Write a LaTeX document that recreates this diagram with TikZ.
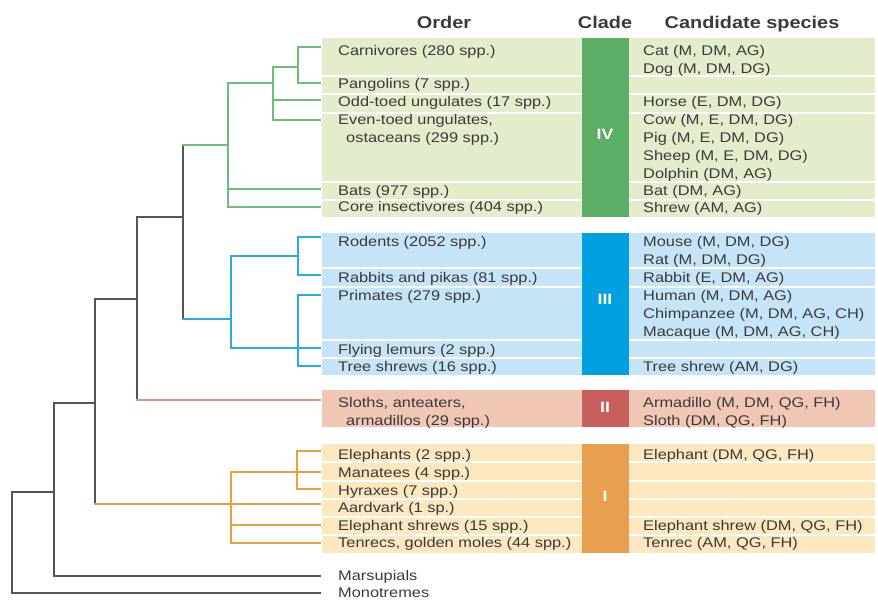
\documentclass[tikz,border=0pt]{standalone}
\usepackage{fontspec}
\setmainfont{Liberation Sans}[FakeStretch=1.17]
\usetikzlibrary{positioning, calc}
\usepackage{xcolor}
\definecolor{mamtext}{HTML}{3A3A3A}
\definecolor{mamgray}{HTML}{555555}
\definecolor{mamgreenband}{HTML}{E3EDCB}
\definecolor{mamgreenbar}{HTML}{5CAE64}
\definecolor{mamgreenline}{HTML}{6EBE78}
\definecolor{mamblueband}{HTML}{C6E4F7}
\definecolor{mambluebar}{HTML}{00A0E1}
\definecolor{mamblueline}{HTML}{29AAE2}
\definecolor{mamredband}{HTML}{F0C6B4}
\definecolor{mamredbar}{HTML}{C85F5F}
\definecolor{mamredline}{HTML}{DC9682}
\definecolor{mamorangeband}{HTML}{FCE8BE}
\definecolor{mamorangebar}{HTML}{E6A050}
\definecolor{mamorangeline}{HTML}{EBA03C}

\tikzset{
  ordtext/.style={anchor=base west, inner sep=0pt, text=mamtext,
    font=\fontsize{14}{17}\selectfont},
  headtext/.style={anchor=base, inner sep=0pt, text=mamtext,
    font=\bfseries\fontsize{17}{20}\selectfont},
  cladelabel/.style={anchor=base, inner sep=0pt, text=white,
    font=\bfseries\fontsize{15}{18}\selectfont},
  branch/.style={line width=1.6pt, line cap=rect},
  rowsep/.style={white, line width=1.2pt}
}

\begin{document}
\begin{tikzpicture}[x=1pt, y=-1pt]
  \useasboundingbox (0,0) rectangle (878,601);

  % Headers
  \node[headtext] (hOrder) at (444,29) {Order};
  \node[headtext] (hClade) at (605,29) {Clade};
  \node[headtext] (hCand) at (752,29) {Candidate species};

  % Clade IV band
  \fill[mamgreenband] (322,38) rectangle (875,217);
  \draw[rowsep] (322,76) -- (875,76) (322,94) -- (875,94) (322,113) -- (875,113)
                (322,182) -- (875,182) (322,200) -- (875,200);
  \fill[mamgreenbar] (582,38) rectangle (629,217);
  \node[cladelabel] (cIV) at (605,140) {IV};

  % Clade III band
  \fill[mamblueband] (322,233) rectangle (875,375);
  \draw[rowsep] (322,268) -- (875,268) (322,287) -- (875,287)
                (322,340) -- (875,340) (322,358) -- (875,358);
  \fill[mambluebar] (582,233) rectangle (629,375);
  \node[cladelabel] (cIII) at (605,305) {III};

  % Clade II band
  \fill[mamredband] (322,390) rectangle (875,427);
  \fill[mamredbar] (582,390) rectangle (629,427);
  \node[cladelabel] (cII) at (605,413) {II};

  % Clade I band
  \fill[mamorangeband] (322,444) rectangle (875,553);
  \draw[rowsep] (322,462) -- (875,462) (322,481) -- (875,481) (322,499) -- (875,499)
                (322,517) -- (875,517) (322,535) -- (875,535);
  \fill[mamorangebar] (582,444) rectangle (629,553);
  \node[cladelabel] (cI) at (605,501) {I};

  % Orders
  \node[ordtext] (carn) at (338,56) {Carnivores (280 spp.)};
  \node[ordtext] (pang) at (338,89) {Pangolins (7 spp.)};
  \node[ordtext] (odd) at (338,107) {Odd-toed ungulates (17 spp.)};
  \node[ordtext] (even) at (338,125) {Even-toed ungulates,};
  \node[ordtext] (evenb) at (346,143) {ostaceans (299 spp.)};
  \node[ordtext] (bats) at (338,196) {Bats (977 spp.)};
  \node[ordtext] (core) at (338,212) {Core insectivores (404 spp.)};
  \node[ordtext] (rod) at (338,247) {Rodents (2052 spp.)};
  \node[ordtext] (rab) at (338,283) {Rabbits and pikas (81 spp.)};
  \node[ordtext] (prim) at (338,301) {Primates (279 spp.)};
  \node[ordtext] (fly) at (338,355) {Flying lemurs (2 spp.)};
  \node[ordtext] (tsh) at (338,372) {Tree shrews (16 spp.)};
  \node[ordtext] (sloth) at (338,407) {Sloths, anteaters,};
  \node[ordtext] (slothb) at (346,425) {armadillos (29 spp.)};
  \node[ordtext] (eleph) at (338,459) {Elephants (2 spp.)};
  \node[ordtext] (man) at (338,477) {Manatees (4 spp.)};
  \node[ordtext] (hyr) at (338,495) {Hyraxes (7 spp.)};
  \node[ordtext] (aard) at (338,512) {Aardvark (1 sp.)};
  \node[ordtext] (elsh) at (338,530) {Elephant shrews (15 spp.)};
  \node[ordtext] (tenr) at (338,547) {Tenrecs, golden moles (44 spp.)};
  \node[ordtext] (mars) at (338,580) {Marsupials};
  \node[ordtext] (mono) at (338,597) {Monotremes};

  % Candidate species
  \node[ordtext] (sCat) at (643,56) {Cat (M, DM, AG)};
  \node[ordtext] (sDog) at (643,74) {Dog (M, DM, DG)};
  \node[ordtext] (sHorse) at (643,107) {Horse (E, DM, DG)};
  \node[ordtext] (sCow) at (643,125) {Cow (M, E, DM, DG)};
  \node[ordtext] (sPig) at (643,143) {Pig (M, E, DM, DG)};
  \node[ordtext] (sSheep) at (643,161) {Sheep (M, E, DM, DG)};
  \node[ordtext] (sDolph) at (643,179) {Dolphin (DM, AG)};
  \node[ordtext] (sBat) at (643,196) {Bat (DM, AG)};
  \node[ordtext] (sShrew) at (643,213) {Shrew (AM, AG)};
  \node[ordtext] (sMouse) at (643,247) {Mouse (M, DM, DG)};
  \node[ordtext] (sRat) at (643,265) {Rat (M, DM, DG)};
  \node[ordtext] (sRabbit) at (643,283) {Rabbit (E, DM, AG)};
  \node[ordtext] (sHuman) at (643,301) {Human (M, DM, AG)};
  \node[ordtext] (sChimp) at (643,319) {Chimpanzee (M, DM, AG, CH)};
  \node[ordtext] (sMacaque) at (643,337) {Macaque (M, DM, AG, CH)};
  \node[ordtext] (sTsh) at (643,372) {Tree shrew (AM, DG)};
  \node[ordtext] (sArma) at (643,407) {Armadillo (M, DM, QG, FH)};
  \node[ordtext] (sSloth) at (643,425) {Sloth (DM, QG, FH)};
  \node[ordtext] (sEleph) at (643,459) {Elephant (DM, QG, FH)};
  \node[ordtext] (sElsh) at (643,530) {Elephant shrew (DM, QG, FH)};
  \node[ordtext] (sTenr) at (643,547) {Tenrec (AM, QG, FH)};

  % Tips
  \coordinate (tCarn) at (320,47);
  \coordinate (tPang) at (320,83);
  \coordinate (tOdd) at (320,100);
  \coordinate (tEven) at (320,120);
  \coordinate (tBats) at (320,189);
  \coordinate (tCore) at (320,207);
  \coordinate (tRod) at (320,237);
  \coordinate (tRab) at (320,275);
  \coordinate (tPrim) at (320,295);
  \coordinate (tFly) at (320,348);
  \coordinate (tTsh) at (320,366);
  \coordinate (tSloth) at (320,400);
  \coordinate (tEleph) at (320,451);
  \coordinate (tMan) at (320,472);
  \coordinate (tHyr) at (320,489);
  \coordinate (tAard) at (320,504);
  \coordinate (tElsh) at (320,525);
  \coordinate (tTenr) at (320,543);
  \coordinate (tMars) at (320,576);
  \coordinate (tMono) at (320,593);

  % Inner nodes
  \coordinate (nCarPan) at (298,67);
  \coordinate (nFer) at (273,83);
  \coordinate (nLaur) at (228,145);
  \coordinate (nGlires) at (298,256);
  \coordinate (nPrim) at (298,348);
  \coordinate (nEuarch) at (231,319);
  \coordinate (nBoreo) at (183,217);
  \coordinate (nEpi) at (137,299);
  \coordinate (nPaen) at (297,472);
  \coordinate (nAfro) at (231,504);
  \coordinate (nEuth) at (95,403);
  \coordinate (nTher) at (54,492);
  \coordinate (nRoot) at (12,593);

  % Clade IV tree
  \draw[branch, mamgreenline] (nCarPan) |- (tCarn) (nCarPan) |- (tPang);
  \draw[branch, mamgreenline] (nFer) |- (nCarPan) (nFer) |- (tOdd) (nFer) |- (tEven);
  \draw[branch, mamgreenline] (nLaur) |- (nFer) (nLaur) |- (tBats) (nLaur) |- (tCore);

  % Clade III tree
  \draw[branch, mamblueline] (nGlires) |- (tRod) (nGlires) |- (tRab);
  \draw[branch, mamblueline] (nPrim) |- (tPrim) (nPrim) -- (tFly) (nPrim) |- (tTsh);
  \draw[branch, mamblueline] (nEuarch) |- (nGlires) (nEuarch) |- (nPrim);

  % Clade I tree
  \draw[branch, mamorangeline] (nPaen) |- (tEleph) (nPaen) -- (tMan) (nPaen) |- (tHyr);
  \draw[branch, mamorangeline] (nAfro) |- (nPaen) (nAfro) -- (tAard)
                               (nAfro) |- (tElsh) (nAfro) |- (tTenr);

  % Backbone
  \draw[branch, mamgray] (nLaur -| nBoreo) -- (nEuarch -| nBoreo);
  \draw[branch, mamgreenline] (nLaur -| nBoreo) -- (nLaur);
  \draw[branch, mamblueline] (nEuarch -| nBoreo) -- (nEuarch);
  \draw[branch, mamgray] (nEpi) |- (nBoreo) (nEpi) -- (tSloth -| nEpi);
  \draw[branch, mamredline] (tSloth -| nEpi) -- (tSloth);
  \draw[branch, mamgray] (nEuth) |- (nEpi) (nEuth) -- (nAfro -| nEuth);
  \draw[branch, mamorangeline] (nAfro -| nEuth) -- (nAfro);
  \draw[branch, mamgray] (nTher) |- (nEuth) (nTher) |- (tMars);
  \draw[branch, mamgray] (nRoot) |- (nTher) (nRoot) -- (tMono);
\end{tikzpicture}
\end{document}
